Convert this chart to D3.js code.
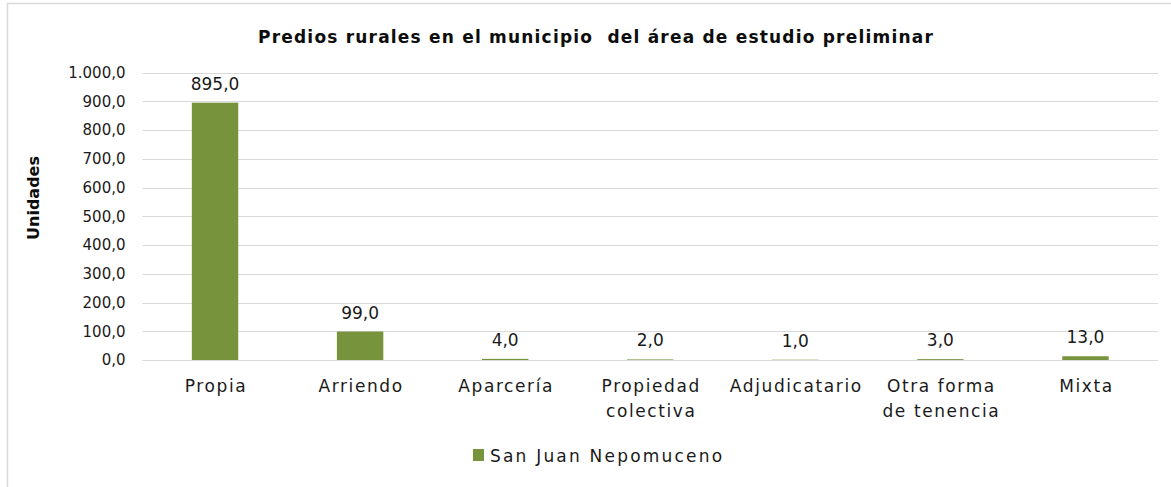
<!DOCTYPE html>
<html>
<head>
<meta charset="utf-8">
<script src="https://cdn.jsdelivr.net/npm/d3@7"></script>
<style>
  html, body { margin: 0; padding: 0; background: #fff; }
  svg { display: block; }
  text { font-family: "DejaVu Sans", sans-serif; }
  .title { white-space: pre; }
</style>
</head>
<body>
<svg id="chart" width="1171" height="487"></svg>
<script>
// Predios rurales por forma de tenencia
const categories = [
  ["Propia"],
  ["Arriendo"],
  ["Aparcería"],
  ["Propiedad", "colectiva"],
  ["Adjudicatario"],
  ["Otra forma", "de tenencia"],
  ["Mixta"]
];
const values = [895, 99, 4, 2, 1, 3, 13];
const seriesName = "San Juan Nepomuceno";
const yTicks = [0, 100, 200, 300, 400, 500, 600, 700, 800, 900, 1000];
const title = "Predios rurales en el municipio  del área de estudio preliminar";
const yTitle = "Unidades";

const W = 1171, H = 487;
const margin = { left: 142.5, right: 13, top: 72.5, bottom: 127 };
const color = "#77933C";
const grid = "#D9D9D9";
const ink = "#1a1a1a";

const locale = d3.formatLocale({ decimal: ",", thousands: ".", grouping: [3], currency: ["$", ""] });
const fmt = locale.format(",.1f");

const svg = d3.select("#chart");

// outer chart frame
svg.append("rect")
  .attr("x", 7.5).attr("y", 3.5)
  .attr("width", W + 20).attr("height", H + 20)
  .attr("fill", "#fff").attr("stroke", grid).attr("stroke-width", 1.5);

const keys = categories.map((c, i) => i);
const x = d3.scaleBand()
  .domain(keys)
  .range([margin.left, W - margin.right])
  .paddingInner(0.68)
  .paddingOuter(0.34);

const y = d3.scaleLinear()
  .domain([0, 1000])
  .range([H - margin.bottom, margin.top]);

// gridlines
svg.append("g")
  .selectAll("line")
  .data(yTicks)
  .join("line")
  .attr("x1", margin.left).attr("x2", W - margin.right)
  .attr("y1", d => Math.round(y(d)) + 0.5).attr("y2", d => Math.round(y(d)) + 0.5)
  .attr("stroke", grid).attr("stroke-width", 1);

// y axis labels
const yAxis = d3.axisLeft(y).tickValues(yTicks).tickFormat(fmt).tickSize(0).tickPadding(17);
const gy = svg.append("g")
  .attr("transform", `translate(${margin.left},0)`)
  .call(yAxis);
gy.select(".domain").remove();
gy.selectAll("text")
  .attr("font-size", 15)
  .attr("fill", ink)
  .style("font-family", '"DejaVu Sans", sans-serif');

// bars
svg.append("g")
  .selectAll("rect")
  .data(values)
  .join("rect")
  .attr("x", (d, i) => x(i))
  .attr("width", x.bandwidth())
  .attr("y", d => y(d))
  .attr("height", d => y(0) - y(d))
  .attr("fill", color);

// value labels
svg.append("g")
  .selectAll("text")
  .data(values)
  .join("text")
  .attr("x", (d, i) => x(i) + x.bandwidth() / 2)
  .attr("y", d => y(d) - 13)
  .attr("text-anchor", "middle")
  .attr("font-size", 17)
  .attr("fill", ink)
  .text(d => fmt(d));

// baseline
svg.append("line")
  .attr("x1", margin.left).attr("x2", W - margin.right)
  .attr("y1", Math.round(y(0)) + 0.5).attr("y2", Math.round(y(0)) + 0.5)
  .attr("stroke", grid).attr("stroke-width", 1);

// category labels
const xl = svg.append("g")
  .selectAll("text")
  .data(categories)
  .join("text")
  .attr("x", (d, i) => x(i) + x.bandwidth() / 2 + 1)
  .attr("y", y(0) + 32)
  .attr("text-anchor", "middle")
  .attr("font-size", 17)
  .attr("letter-spacing", 1.6)
  .attr("fill", ink);
xl.selectAll("tspan")
  .data(d => d)
  .join("tspan")
  .attr("x", function () { return d3.select(this.parentNode).attr("x"); })
  .attr("dy", (d, i) => i === 0 ? 0 : 24.5)
  .text(d => d);

// title
svg.append("text")
  .attr("class", "title")
  .attr("x", 596).attr("y", 43)
  .attr("text-anchor", "middle")
  .attr("font-size", 17)
  .attr("font-weight", "bold")
  .attr("letter-spacing", 1.2)
  .attr("fill", "#0d0d0d")
  .text(title);

// y axis title
svg.append("text")
  .attr("transform", `translate(39,198) rotate(-90)`)
  .attr("text-anchor", "middle")
  .attr("font-size", 16)
  .attr("font-weight", "bold")
  .attr("fill", "#0d0d0d")
  .text(yTitle);

// legend
const lg = svg.append("g").attr("transform", "translate(473,449)");
lg.append("rect").attr("width", 11).attr("height", 12).attr("fill", color);
lg.append("text")
  .attr("x", 17).attr("y", 12.5)
  .attr("font-size", 17)
  .attr("letter-spacing", 2.2)
  .attr("fill", ink)
  .text(seriesName);
</script>
</body>
</html>
